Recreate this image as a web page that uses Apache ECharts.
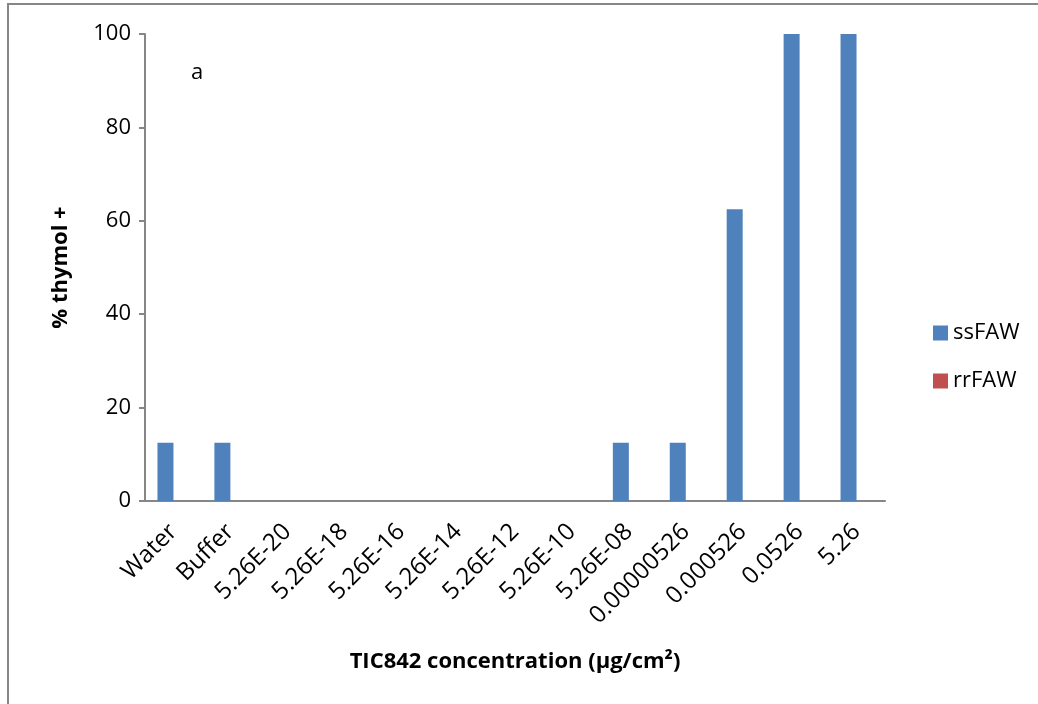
<!DOCTYPE html>
<html>
<head>
<meta charset="utf-8">
<script src="https://cdn.jsdelivr.net/npm/echarts@6/dist/echarts.min.js"></script>
<style>
html,body{margin:0;padding:0;background:#fff;}
#chart{width:1038px;height:704px;}
</style>
</head>
<body>
<div id="chart"></div>
<script>
const categories = ['Water','Buffer','5.26E-20','5.26E-18','5.26E-16','5.26E-14','5.26E-12','5.26E-10','5.26E-08','0.00000526','0.000526','0.0526','5.26'];
const ssFAW = [12.5,12.5,0,0,0,0,0,0,12.5,12.5,62.5,100,100];
const rrFAW = [0,0,0,0,0,0,0,0,0,0,0,0,0];
const yTicks = [0,20,40,60,80,100];

const FONT = '"Open Sans", sans-serif';
const chart = echarts.init(document.getElementById('chart'));
chart.setOption({
  animation: false,
  backgroundColor: '#fff',
  textStyle: {fontFamily: FONT},
  grid: {left: 145, right: 153, top: 34, bottom: 203, containLabel: false},
  legend: {
    orient: 'vertical', left: 928, top: 317, itemGap: 26,
    itemWidth: 15, itemHeight: 15, icon: 'rect',
    textStyle: {fontSize: 22, color: '#000', fontFamily: FONT},
    data: ['ssFAW','rrFAW']
  },
  xAxis: {
    type: 'category', data: categories,
    axisLine: {lineStyle: {color: '#868686', width: 2}},
    axisTick: {show: false},
    axisLabel: {rotate: 45, fontSize: 24, color: '#000', margin: 27, interval: 0, fontFamily: FONT},
    name: 'TIC842 concentration (µg/cm²)', nameLocation: 'middle', nameGap: 150,
    nameTextStyle: {fontSize: 22, fontWeight: 'bold', color: '#000', fontFamily: FONT}
  },
  yAxis: {
    type: 'value', min: 0, max: 100, interval: 20,
    axisLine: {show: true, lineStyle: {color: '#868686', width: 2}},
    axisTick: {show: true, length: 6, lineStyle: {color: '#868686', width: 2}},
    splitLine: {show: false},
    axisLabel: {fontSize: 22, color: '#000', margin: 14, fontFamily: FONT,
      formatter: v => yTicks.includes(v) ? String(v) : ''},
    name: '% thymol +', nameLocation: 'middle', nameGap: 73,
    nameTextStyle: {fontSize: 22, fontWeight: 'bold', color: '#000', fontFamily: FONT}
  },
  graphic: [
    {type: 'rect', shape: {x: 8, y: 4, width: 1100, height: 800}, style: {fill: 'none', stroke: '#868686', lineWidth: 2}, silent: true},
    {type: 'text', left: 191, top: 62, style: {text: 'a', fontSize: 22, fill: '#000', fontFamily: FONT}}
  ],
  series: [
    {name: 'ssFAW', type: 'bar', data: ssFAW, barWidth: 16, barGap: '0%',
     itemStyle: {color: '#4F81BD'}},
    {name: 'rrFAW', type: 'bar', data: rrFAW, barWidth: 16,
     itemStyle: {color: '#C0504D'}}
  ]
});
</script>
</body>
</html>
